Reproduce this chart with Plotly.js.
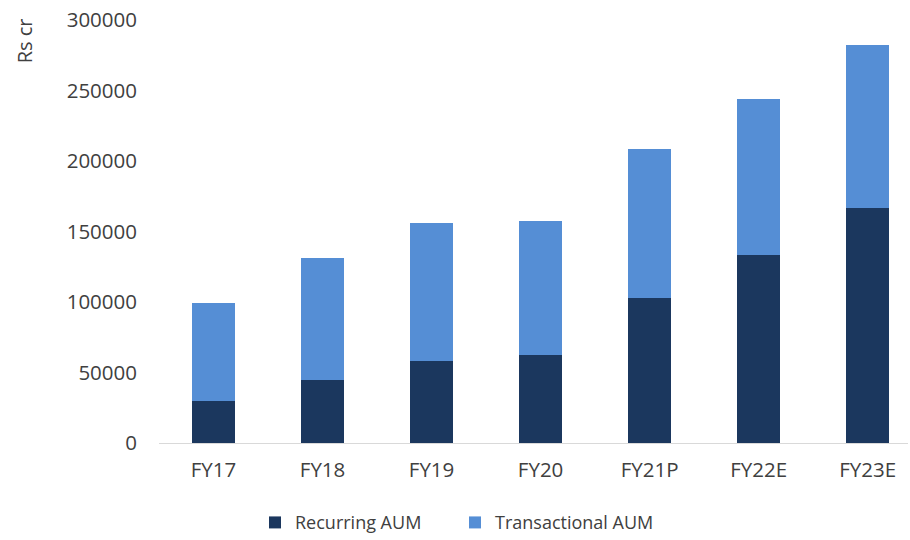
<!DOCTYPE html>
<html>
<head>
<meta charset="utf-8">
<script src="https://cdn.plot.ly/plotly-3.0.1.min.js"></script>
<style>
  html, body { margin: 0; padding: 0; background: #ffffff; }
  #chart { width: 910px; height: 540px; }
</style>
</head>
<body>
<div id="chart"></div>
<script>
// Fiscal years on the category axis
const years = ["FY17", "FY18", "FY19", "FY20", "FY21P", "FY22E", "FY23E"];

// AUM split, Rs crore
const recurringAUM = [30000, 44500, 58000, 62500, 102500, 133500, 166500];
const transactionalAUM = [69000, 86500, 98000, 95000, 106000, 110500, 116000];

// Y-axis ticks
const yTicks = [0, 50000, 100000, 150000, 200000, 250000, 300000];

const FONT = "Open Sans, DejaVu Sans, sans-serif";
const TEXT_COLOR = "#404040";

const traces = [
  {
    type: "bar",
    name: "Recurring AUM",
    x: years,
    y: recurringAUM,
    marker: { color: "#1B375E" },
    hoverinfo: "x+y+name"
  },
  {
    type: "bar",
    name: "Transactional AUM",
    x: years,
    y: transactionalAUM,
    marker: { color: "#558ED5" },
    hoverinfo: "x+y+name"
  }
];

const layout = {
  width: 910,
  height: 540,
  barmode: "stack",
  bargap: 0.606,
  paper_bgcolor: "#ffffff",
  plot_bgcolor: "#ffffff",
  margin: { l: 159, r: 2, t: 20, b: 97 },
  font: { family: FONT, size: 20, color: TEXT_COLOR },
  xaxis: {
    type: "category",
    range: [-0.5, 6.37],
    showgrid: false,
    zeroline: false,
    showline: true,
    linecolor: "#d9d9d9",
    linewidth: 1,
    ticks: "",
    ticklabelstandoff: 8,
    tickfont: { family: FONT, size: 20.5, color: TEXT_COLOR }
  },
  yaxis: {
    range: [0, 300000],
    tickvals: yTicks,
    ticktext: yTicks.map(String),
    showgrid: false,
    zeroline: false,
    showline: false,
    ticks: "",
    ticklabelstandoff: 21,
    tickfont: { family: FONT, size: 20.5, color: TEXT_COLOR }
  },
  showlegend: true,
  legend: {
    orientation: "h",
    xref: "container",
    yref: "container",
    x: 0.5,
    xanchor: "center",
    y: 0.032,
    yanchor: "middle",
    font: { family: FONT, size: 18, color: TEXT_COLOR },
    traceorder: "normal",
    itemwidth: 30,
    entrywidth: 155
  },
  annotations: [
    {
      text: "Rs cr",
      xref: "paper",
      yref: "paper",
      x: -0.18,
      y: 0.95,
      xanchor: "center",
      yanchor: "middle",
      textangle: -90,
      showarrow: false,
      font: { family: FONT, size: 20, color: TEXT_COLOR }
    }
  ]
};

Plotly.newPlot("chart", traces, layout, { displayModeBar: false, staticPlot: true });
</script>
</body>
</html>
